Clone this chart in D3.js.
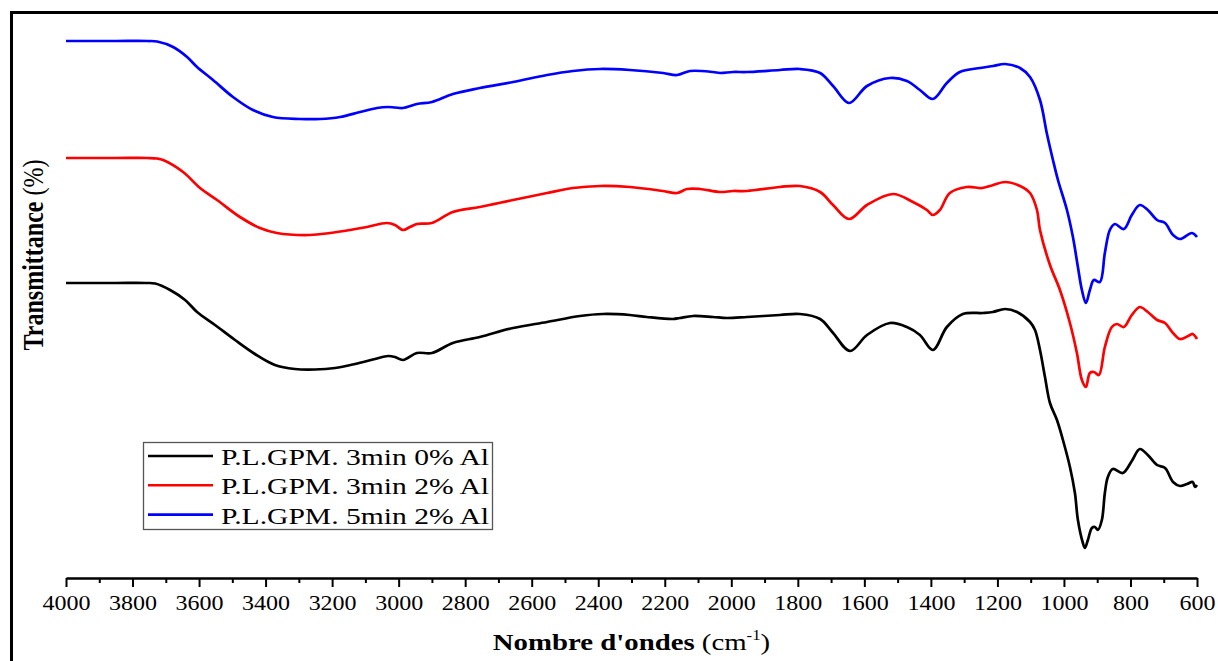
<!DOCTYPE html>
<html><head><meta charset="utf-8">
<script src="https://cdn.jsdelivr.net/npm/d3@7"></script>
<style>
body{margin:0;background:#fff}
svg{display:block}
text{font-family:"Liberation Serif","Times New Roman",serif;fill:#000}
</style></head>
<body><svg id="c" width="1218" height="661"></svg>
<script>
// ---- data: [wavenumber cm^-1, transmittance (a.u., stacked)] ----
const seriesNames = ["P.L.GPM. 3min 0% Al", "P.L.GPM. 3min 2% Al", "P.L.GPM. 5min 2% Al"];
const xTickValues = [4000,3800,3600,3400,3200,3000,2800,2600,2400,2200,2000,1800,1600,1400,1200,1000,800,600];
const xMinorTicks = [3900,3700,3500,3300,3100,2900,2700,2500,2300,2100,1900,1700,1500,1300,1100,900,700];

const black0 = [[4000,59.0],[3850,59.0],[3760,59.0],[3732,58.9],[3687,57.6],[3642,55.6],[3606,53.2],[3552,50.6],[3492,47.6],[3432,44.8],
 [3372,42.6],[3312,41.8],[3252,41.7],[3191,42.0],[3131,42.8],[3071,43.8],[3032,44.4],[3011,44.2],[2987,43.6],
 [2945,45.0],[2900,45.0],[2837,47.0],[2756,48.2],[2656,50.0],[2554,51.2],[2455,52.4],[2386,52.8],[2305,52.6],
 [2254,52.2],[2175,51.8],[2155,52.0],[2115,52.4],[2055,52.2],[2013,52.0],[1953,52.2],[1854,52.6],[1794,52.8],
 [1733,51.8],[1694,49.0],[1643,45.4],[1592,48.6],[1523,51.0],[1472,50.2],[1433,48.6],[1394,45.6],[1352,50.2],
 [1304,52.8],[1244,53.0],[1214,53.2],[1177,53.8],[1141,53.2],[1102,51.2],[1087,49.6],[1072,45.6],[1057,40.2],
 [1042,35.0],[1021,31.6],[1003,27.6],[982,22.2],[967,17.0],[958,11.6],[943,7.0],[937,6.0],[928,7.6],[916,10.0],
 [907,10.2],[898,9.6],[886,11.6],[877,17.0],[868,20.2],[853,21.8],[823,21.0],[796,23.4],[772,25.8],[748,24.6],
 [720,22.6],[696,22.0],[672,19.2],[651,18.4],[630,18.8],[613,19.2],[606,18.2],[600,18.6]];

const red2 = [[4000,84.0],[3850,84.0],[3755,84.0],[3726,83.9],[3708,83.6],[3648,81.2],[3597,78.0],[3546,75.6],[3477,72.2],[3417,70.0],
 [3366,69.0],[3267,68.6],[3206,69.0],[3146,69.6],[3095,70.2],[3035,71.0],[3011,70.6],[2987,69.6],[2966,70.2],
 [2945,70.8],[2900,71.0],[2837,73.2],[2756,74.2],[2656,75.6],[2554,77.0],[2476,78.0],[2395,78.4],[2305,78.2],
 [2205,77.4],[2163,77.0],[2133,77.8],[2094,77.8],[2034,77.2],[1995,77.4],[1953,77.4],[1854,78.2],[1794,78.4],
 [1733,77.2],[1694,74.6],[1646,71.8],[1592,74.6],[1514,76.8],[1454,75.2],[1412,73.6],[1394,72.6],[1373,73.6],
 [1343,77.0],[1292,78.2],[1246,78.0],[1222,78.4],[1177,79.2],[1132,78.4],[1102,77.0],[1081,73.6],[1072,69.6],
 [1042,62.6],[1012,57.6],[982,51.0],[961,45.0],[946,39.6],[934,38.2],[922,41.0],[910,41.2],[895,40.6],[877,46.2],
 [856,50.2],[841,50.8],[820,50.2],[796,52.6],[772,54.2],[748,53.2],[720,51.6],[696,51.0],[672,49.0],[651,47.8],
 [621,48.6],[613,48.8],[600,47.8]];

const blue5 = [[4000,107.4],[3850,107.4],[3755,107.4],[3726,107.3],[3678,106.2],[3636,104.2],[3606,102.2],[3558,99.6],[3498,96.2],[3438,93.6],
 [3378,92.2],[3297,91.8],[3236,91.8],[3176,92.2],[3116,93.2],[3065,94.0],[3032,94.2],[3011,94.1],[2987,94.0],
 [2945,94.8],[2900,95.2],[2837,96.8],[2756,98.0],[2656,99.2],[2554,100.6],[2476,101.4],[2395,101.8],[2305,101.6],
 [2205,101.0],[2163,100.6],[2124,101.4],[2055,101.2],[2034,101.0],[1995,101.2],[1953,101.2],[1854,101.6],[1794,101.8],
 [1733,101.0],[1694,98.4],[1646,95.0],[1592,98.4],[1523,100.0],[1472,99.4],[1433,97.6],[1394,95.8],[1352,99.0],
 [1313,101.2],[1252,102.0],[1213,102.4],[1177,102.8],[1132,102.0],[1102,100.2],[1072,95.6],[1051,88.8],[1033,83.6],
 [1018,79.6],[991,73.6],[973,68.2],[958,62.2],[946,57.6],[934,55.0],[922,57.6],[910,59.6],[892,59.2],[877,65.0],
 [862,69.6],[847,70.8],[820,69.8],[796,72.6],[772,74.6],[748,73.6],[720,71.6],[696,71.0],[672,68.6],[651,67.8],
 [615,69.0],[600,68.2]];

const seriesData = [black0, red2, blue5];
const seriesColors = ["#000000", "#ff0000", "#0000ff"];

// ---- layout ----
const FONT = '"Liberation Serif","Times New Roman",serif';
const svg = d3.select("#c");
const x = d3.scaleLinear().domain([4000, 600]).range([66, 1197]);
const y = d3.scaleLinear().domain([0, 113.2]).range([578, 12]);
const SX = 1.2; // horizontal stretch of the original picture

// outer frame (cut by the picture edge)
svg.append("rect").attr("x", 11.5).attr("y", 12.5).attr("width", 1400).attr("height", 900)
  .attr("fill", "none").attr("stroke", "#000").attr("stroke-width", 3);

// curves
const line = d3.line().x(d => x(d[0])).y(d => y(d[1])).curve(d3.curveCatmullRom.alpha(0.5));
seriesData.forEach((d, i) => {
  svg.append("path").datum(d).attr("d", line).attr("fill", "none")
    .attr("stroke", seriesColors[i]).attr("stroke-width", 2.7).attr("stroke-linejoin", "round");
});

// x axis
const gx = svg.append("g").attr("transform", "translate(0,578)");
gx.call(d3.axisBottom(x).tickValues(xTickValues).tickSize(9).tickSizeOuter(0).tickFormat(d3.format("d")));
gx.attr("font-family", null).attr("font-size", null);
gx.select(".domain").attr("stroke-width", 2.5);
gx.selectAll(".tick line").attr("stroke-width", 2);
gx.selectAll(".tick text").attr("y", 32).attr("dy", 0)
  .attr("transform", `scale(${SX},1)`)
  .style("font-family", FONT).style("font-size", "20px");
const gm = svg.append("g").attr("transform", "translate(0,578)");
gm.call(d3.axisBottom(x).tickValues(xMinorTicks).tickSize(5).tickSizeOuter(0).tickFormat(""));
gm.select(".domain").remove();
gm.selectAll(".tick line").attr("stroke-width", 2);

// x title
const xt = svg.append("text").attr("transform", `translate(631.5,650) scale(${SX},1)`)
  .attr("text-anchor", "middle").style("font-size", "24px");
xt.append("tspan").attr("font-weight", "bold").text("Nombre d'ondes");
xt.append("tspan").text(" (cm");
xt.append("tspan").style("font-size", "14px").attr("dy", -10).text("-1");
xt.append("tspan").attr("dy", 10).text(")");

// y title
const yt = svg.append("text").attr("transform", `translate(43,255) rotate(-90) scale(1,${SX})`)
  .attr("text-anchor", "middle").style("font-size", "24px");
yt.append("tspan").attr("font-weight", "bold").text("Transmittance");
yt.append("tspan").text(" (%)");

// legend
const lg = svg.append("g");
lg.append("rect").attr("x", 143.5).attr("y", 442.5).attr("width", 349).attr("height", 87)
  .attr("fill", "#fff").attr("stroke", "#555").attr("stroke-width", 1.3);
seriesNames.forEach((name, i) => {
  const by = 465 + i * 29.3;
  lg.append("line").attr("x1", 148).attr("x2", 213).attr("y1", by - 9).attr("y2", by - 9)
    .attr("stroke", seriesColors[i]).attr("stroke-width", 2.6);
  lg.append("text").attr("x", 221).attr("y", by).style("font-size", "23px")
    .attr("textLength", 268).attr("lengthAdjust", "spacingAndGlyphs").text(name);
});
</script></body></html>
